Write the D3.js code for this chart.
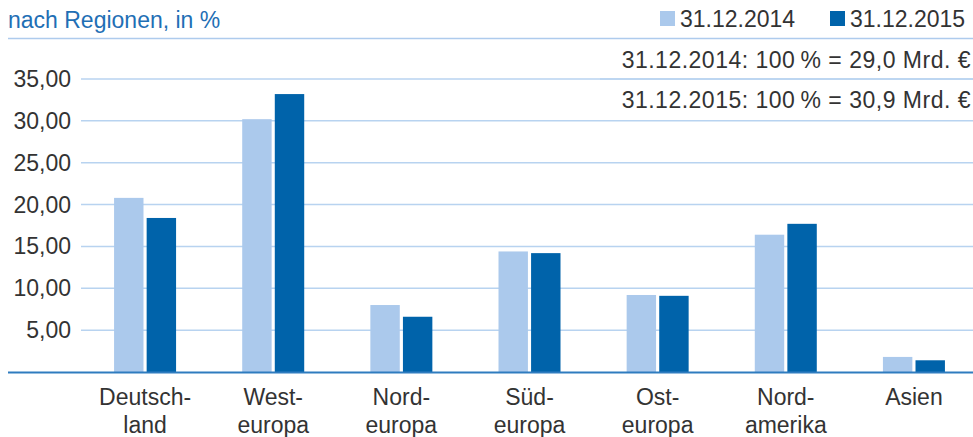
<!DOCTYPE html>
<html><head><meta charset="utf-8">
<script src="https://cdn.jsdelivr.net/npm/d3@7"></script>
<style>body{margin:0;background:#fff}text{font-family:"Liberation Sans",Arial,sans-serif;font-weight:400}</style>
</head><body>
<svg id="c" width="973" height="437"></svg>
<script>
const categories = [["Deutsch-","land"],["West-","europa"],["Nord-","europa"],["Süd-","europa"],["Ost-","europa"],["Nord-","amerika"],["Asien"]];
const series2014 = [20.8, 30.2, 8.0, 14.4, 9.2, 16.4, 1.8];
const series2015 = [18.4, 33.2, 6.6, 14.2, 9.1, 17.7, 1.4];
const seriesNames = ["31.12.2014", "31.12.2015"];
const yTicks = [5, 10, 15, 20, 25, 30, 35];
const notes = ["31.12.2014: 100\u202F% = 29,0 Mrd. €", "31.12.2015: 100\u202F% = 30,9 Mrd. €"];
const title = "nach Regionen, in %";

const colors = ["#abc9ec", "#0063aa"];
const textColor = "#333333";
const fs = 23;
const svg = d3.select("#c");
const y = d3.scaleLinear().domain([0, 35]).range([372, 79]);
const x = d3.scaleBand().domain(d3.range(categories.length)).range([81, 978]).paddingInner(0).paddingOuter(0);
const x1 = d3.scaleBand().domain([0,1]).range([0, 62]).paddingInner(6/62);

// title
svg.append("text").attr("x", 8).attr("y", 28).attr("font-size", fs).attr("fill", "#1f6fb5").text(title);
svg.append("line").attr("x1", 8).attr("x2", 973).attr("y1", 38.5).attr("y2", 38.5).attr("stroke", "#aecbed").attr("stroke-width", 1.5);

// legend
const legX = [660, 830];
seriesNames.forEach((n, i) => {
  svg.append("rect").attr("x", legX[i]).attr("y", 11).attr("width", 15).attr("height", 15).attr("fill", colors[i]);
  svg.append("text").attr("x", legX[i] + 20).attr("y", 27).attr("font-size", fs).attr("fill", textColor).text(n);
});

// grid
svg.append("g").selectAll("line").data(yTicks).join("line")
  .attr("x1", 81).attr("x2", 973).attr("y1", d => y(d)).attr("y2", d => y(d))
  .attr("stroke", "#b8d3f0").attr("stroke-width", 1.5);

// y labels
svg.append("g").selectAll("text").data(yTicks).join("text")
  .attr("x", 71).attr("y", d => y(d) + 8).attr("text-anchor", "end").attr("font-size", fs).attr("fill", textColor)
  .text(d => d3.format(".2f")(d).replace(".", ","));

// notes
notes.forEach((t, i) => {
  svg.append("text").attr("x", 971).attr("y", 68 + i * 40).attr("text-anchor", "end").attr("font-size", fs)
    .attr("letter-spacing", 0.5).attr("fill", textColor).text(t);
});
svg.append("line").attr("x1", 600).attr("x2", 973).attr("y1", 79).attr("y2", 79).attr("stroke", "#b8d3f0").attr("stroke-width", 1.5);

// bars
const data = [series2014, series2015];
const g = svg.append("g");
categories.forEach((c, i) => {
  data.forEach((s, j) => {
    g.append("rect")
      .attr("x", x(i) + (x.bandwidth() - 62) / 2 + x1(j))
      .attr("width", x1.bandwidth())
      .attr("y", y(s[i])).attr("height", y(0) - y(s[i]))
      .attr("fill", colors[j]);
  });
});

// baseline
svg.append("line").attr("x1", 8).attr("x2", 973).attr("y1", 372.5).attr("y2", 372.5).attr("stroke", "#2f7cbf").attr("stroke-width", 2);

// category labels
categories.forEach((c, i) => {
  const cx = x(i) + x.bandwidth() / 2;
  const t = svg.append("text").attr("x", cx).attr("y", 405).attr("text-anchor", "middle").attr("font-size", fs).attr("fill", textColor);
  c.forEach((line, k) => t.append("tspan").attr("x", cx).attr("dy", k === 0 ? 0 : 28).text(line));
});
</script>
</body></html>
